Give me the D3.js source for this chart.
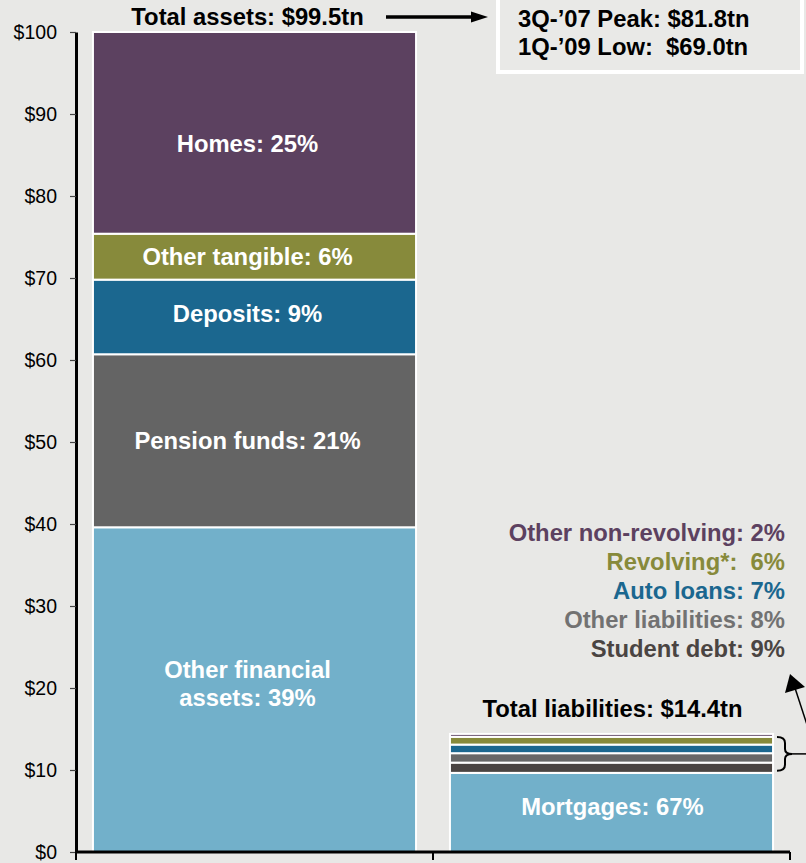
<!DOCTYPE html>
<html>
<head>
<meta charset="utf-8">
<script src="https://cdn.jsdelivr.net/npm/d3@7"></script>
<style>
  body { margin: 0; background: #e8e8e6; }
  svg { display: block; font-family: "Liberation Sans", Arial, sans-serif; }
  text { white-space: pre; }
</style>
</head>
<body>
<svg id="chart" width="806" height="863"></svg>
<script>
// ---- data ----
const categories = ["Assets", "Liabilities"];

const assetNames  = ["Other financial assets", "Pension funds", "Deposits", "Other tangible", "Homes"];
const assetValues = [39.6, 21.1, 9.1, 5.6, 24.6];
const assetLabels = [["Other financial", "assets: 39%"], ["Pension funds: 21%"], ["Deposits: 9%"], ["Other tangible: 6%"], ["Homes: 25%"]];

const liabilityNames  = ["Mortgages", "Student debt", "Other liabilities", "Auto loans", "Revolving*", "Other non-revolving"];
const liabilityValues = [9.65, 1.25, 1.15, 1.05, 0.95, 0.35];
const liabilityLabels = ["Mortgages: 67%", "Student debt: 9%", "Other liabilities: 8%", "Auto loans: 7%", "Revolving*:  6%", "Other non-revolving: 2%"];

const totalLabels = ["Total assets: $99.5tn", "Total liabilities: $14.4tn"];
const totalValues = [99.5, 14.4];
const peakLowLabels = ["3Q-\u201907 Peak: $81.8tn", "1Q-\u201909 Low:  $69.0tn"];
const yTickValues = d3.range(0, 101, 10);

const assetColors = ["#72b0ca", "#646464", "#1b678f", "#878a3b", "#5c4160"];
const liabilityColors = ["#72b0ca", "#4a4442", "#676767", "#1b678f", "#878a3b", "#5c4160"];
const liabilityTextColors = ["#ffffff", "#4a4442", "#727272", "#1b678f", "#878a3b", "#5c4160"];

// ---- layout ----
const svg = d3.select("#chart");
const margin = { left: 76, bottom: 852, top: 32 };
const boldSize = "23.8px";
// small hand nudges of the in-bar labels, as in the original slide
const assetLabelNudge = [-6, 0, -3, 0, 11];
const labelShiftX = [-7, 1];

const x = d3.scaleBand().domain(categories).range([76, 790])
  .paddingInner(0.095).paddingOuter(0.0475);
const y = d3.scaleLinear().domain([0, 100]).range([852, 32]);

/** stack one column of values into [y0, y1] pieces */
function stackCol(values) {
  let acc = 0;
  return values.map(v => { let s = [acc, acc + v]; acc += v; return s; });
}

// ---- y axis ----
let gy = svg.append("g").attr("transform", "translate(" + margin.left + ",0)")
  .call(d3.axisLeft(y).tickValues(yTickValues).tickFormat(d => "$" + d)
        .tickSizeInner(6).tickSizeOuter(0).tickPadding(13));
gy.select(".domain").attr("stroke", "#000").attr("stroke-width", 3);
gy.selectAll(".tick line").attr("stroke", "#444").attr("stroke-width", 1.2);
gy.selectAll(".tick text").attr("fill", "#000").style("font-size", "19.5px")
  .style("font-family", "'Liberation Sans', Arial, sans-serif");

// ---- bars ----
function drawColumn(cat, values, colors) {
  let pieces = stackCol(values);
  svg.append("g").attr("class", "col-" + cat)
    .selectAll("rect").data(pieces).join("rect")
    .attr("x", x(cat))
    .attr("width", x.bandwidth())
    .attr("y", d => y(d[1]))
    .attr("height", d => y(d[0]) - y(d[1]))
    .attr("fill", (d, i) => colors[i])
    .attr("stroke", "#fff")
    .attr("stroke-width", 2);
  return pieces;
}

let assetPieces = drawColumn(categories[0], assetValues, assetColors);
let liabilityPieces = drawColumn(categories[1], liabilityValues, liabilityColors);

// labels inside asset segments
let cx0 = x(categories[0]) + x.bandwidth() / 2 + labelShiftX[0];
assetPieces.forEach((p, i) => {
  let lines = assetLabels[i];
  let mid = (y(p[0]) + y(p[1])) / 2 + assetLabelNudge[i];
  let t = svg.append("text").attr("x", cx0).attr("text-anchor", "middle")
    .attr("fill", "#fff").style("font-weight", "bold").style("font-size", boldSize);
  lines.forEach((line, j) => {
    t.append("tspan").attr("x", cx0)
      .attr("y", mid + (j - (lines.length - 1) / 2) * 28)
      .attr("dy", "0.35em").text(line);
  });
});

// mortgages label inside
let cx1 = x(categories[1]) + x.bandwidth() / 2 + labelShiftX[1];
svg.append("text").attr("x", cx1)
  .attr("y", (y(liabilityPieces[0][0]) + y(liabilityPieces[0][1])) / 2 - 6)
  .attr("dy", "0.35em").attr("text-anchor", "middle")
  .attr("fill", "#fff").style("font-weight", "bold").style("font-size", boldSize)
  .text(liabilityLabels[0]);

// ---- x axis (category boundaries) ----
let gx = svg.append("g").attr("transform", "translate(0," + margin.bottom + ")");
gx.append("line").attr("x1", 76).attr("x2", 790).attr("stroke", "#000").attr("stroke-width", 3);
let bounds = [76, (x(categories[0]) + x.bandwidth() + x(categories[1])) / 2, 790];
gx.selectAll("line.tick").data(bounds).join("line").attr("class", "tick")
  .attr("x1", d => d).attr("x2", d => d).attr("y1", 0).attr("y2", 8)
  .attr("stroke", "#000").attr("stroke-width", 2);

// ---- totals ----
categories.forEach((c, i) => {
  svg.append("text").attr("x", x(c) + x.bandwidth() / 2 + labelShiftX[i])
    .attr("y", i === 0 ? 25 : y(totalValues[i]) - 17)
    .attr("text-anchor", "middle").attr("fill", "#000")
    .style("font-weight", "bold").style("font-size", boldSize)
    .text(totalLabels[i]);
});

// arrow to peak/low box
svg.append("path").attr("d", "M386,17 L474,17").attr("stroke", "#000").attr("stroke-width", 3.5);
svg.append("path").attr("d", "M471,11.5 L488,17 L471,22.5 Z").attr("fill", "#000");

// peak / low box
svg.append("rect").attr("x", 498).attr("y", -10).attr("width", 304).attr("height", 82)
  .attr("fill", "#e9e9e7").attr("stroke", "#fff").attr("stroke-width", 4);
peakLowLabels.forEach((s, i) => {
  svg.append("text").attr("x", 518).attr("y", 27 + i * 28).attr("fill", "#000")
    .style("font-weight", "bold").style("font-size", boldSize).text(s);
});

// ---- side legend for the small liability slices ----
let legendRows = liabilityLabels.slice(1).map((s, i) => ({ s, c: liabilityTextColors[i + 1] })).reverse();
svg.append("g").selectAll("text").data(legendRows).join("text")
  .attr("x", 785).attr("y", (d, i) => 541 + i * 29)
  .attr("text-anchor", "end").attr("fill", d => d.c)
  .style("font-weight", "bold").style("font-size", boldSize)
  .text(d => d.s);

// brace around the small slices + pointer to legend
let bTop = y(totalValues[1]) + 3, bBot = y(liabilityPieces[0][1]) - 2, bMid = (bTop + bBot) / 2;
svg.append("path")
  .attr("d", "M777," + bTop + " Q785," + bTop + " 785," + (bTop + 6) +
        " L785," + (bMid - 5) + " Q785," + bMid + " 792," + bMid +
        " Q785," + bMid + " 785," + (bMid + 5) +
        " L785," + (bBot - 6) + " Q785," + bBot + " 777," + bBot)
  .attr("fill", "none").attr("stroke", "#000").attr("stroke-width", 2);
svg.append("line").attr("x1", 792).attr("x2", 806).attr("y1", bMid).attr("y2", bMid)
  .attr("stroke", "#000").attr("stroke-width", 1.5);
svg.append("line").attr("x1", 812).attr("y1", 740).attr("x2", 795).attr("y2", 688)
  .attr("stroke", "#000").attr("stroke-width", 1.5);
svg.append("path").attr("d", "M790,674 L805,687 L785,693 Z").attr("fill", "#000");
</script>
</body>
</html>
